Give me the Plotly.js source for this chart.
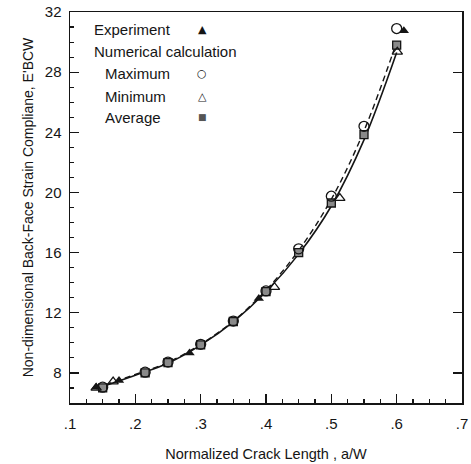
<!DOCTYPE html>
<html><head><meta charset="utf-8">
<script src="https://cdn.plot.ly/plotly-3.0.1.min.js"></script>
<style>body{margin:0;background:#fff}#c{width:471px;height:464px}</style>
</head><body><div id="c"></div>
<script>
// Experiment (filled triangles)
const expX = [0.14, 0.175, 0.283, 0.389, 0.611];
const expY = [7.05, 7.5, 9.32, 12.95, 30.75];
// Numerical: maximum (open circles)
const maxX = [0.15, 0.215, 0.25, 0.30, 0.35, 0.40, 0.45, 0.50, 0.55, 0.60];
const maxY = [7.05, 8.05, 8.72, 9.9, 11.45, 13.45, 16.25, 19.75, 24.4, 30.9];
// Numerical: minimum (open triangles)
const minX = [0.14, 0.166, 0.413, 0.513, 0.601];
const minY = [7.0, 7.42, 13.7, 19.62, 29.35];
// Numerical: average (shaded squares)
const avgX = [0.15, 0.215, 0.25, 0.30, 0.35, 0.40, 0.45, 0.50, 0.55, 0.60];
const avgY = [7.0, 8.0, 8.68, 9.86, 11.42, 13.4, 16.0, 19.3, 23.85, 29.8];
// Fitted curves
const solidX = [0.14, 0.2, 0.25, 0.3, 0.35, 0.4, 0.45, 0.5, 0.55, 0.6];
const solidY = [6.95, 7.85, 8.65, 9.85, 11.4, 13.4, 15.9, 19.1, 23.5, 29.3];
const dashX  = [0.14, 0.2, 0.25, 0.3, 0.35, 0.4, 0.45, 0.5, 0.55, 0.6];
const dashY  = [7.0, 7.9, 8.7, 9.9, 11.45, 13.5, 16.15, 19.55, 24.1, 30.0];
const xTicks = [0.1, 0.2, 0.3, 0.4, 0.5, 0.6, 0.7];
const xTickText = ['.1', '.2', '.3', '.4', '.5', '.6', '.7'];
const yTicks = [8, 12, 16, 20, 24, 28, 32];
const legendLabels = ['Experiment', 'Numerical calculation', 'Maximum', 'Minimum', 'Average'];
const legendGlyphs = ['▲', '', '○', '△', '■'];

const ink = '#151515';
const fam = 'Liberation Sans, Arial, sans-serif';
const traces = [
  {x: solidX, y: solidY, mode: 'lines', line: {color: ink, width: 1.6, shape: 'spline'}},
  {x: dashX, y: dashY, mode: 'lines', line: {color: ink, width: 1.4, dash: '6px,4px', shape: 'spline'}},
  {x: avgX, y: avgY, mode: 'markers', marker: {symbol: 'square', size: 8, color: '#8a8a8a', line: {color: ink, width: 1.3}}},
  {x: maxX, y: maxY, mode: 'markers', marker: {symbol: 'circle-open', size: 10, color: ink, line: {width: 1.3}}},
  {x: minX, y: minY, mode: 'markers', marker: {symbol: 'triangle-up-open', size: 9, color: ink, line: {width: 1.3}}},
  {x: expX, y: expY, mode: 'markers', marker: {symbol: 'triangle-up', size: 9, color: ink}},
  {x: [0.4], y: [20], yaxis: 'y2', mode: 'markers', marker: {opacity: 0}, hoverinfo: 'skip'}
];

const font = {family: fam, size: 15, color: ink};
const ann = [];
const legY = [0.954, 0.898, 0.843, 0.784, 0.731];
const legX = [0.056, 0.056, 0.084, 0.084, 0.084];
legendLabels.forEach((t, i) => {
  ann.push({xref: 'paper', yref: 'paper', x: legX[i], y: legY[i], xanchor: 'left', yanchor: 'middle',
    text: t, showarrow: false, font: font});
  if (legendGlyphs[i]) ann.push({xref: 'paper', yref: 'paper', x: 0.337, y: legY[i], xanchor: 'center', yanchor: 'middle',
    text: legendGlyphs[i], showarrow: false, font: {family: 'DejaVu Sans', size: i === 4 ? 9 : 11, color: i === 4 ? '#555' : ink}});
});

const layout = {
  width: 471, height: 464,
  margin: {l: 70, r: 9, t: 12, b: 61},
  paper_bgcolor: '#fff', plot_bgcolor: '#fff',
  showlegend: false,
  font: font,
  xaxis: {
    range: [0.1, 0.7], tickvals: xTicks, ticktext: xTickText,
    ticks: 'inside', ticklen: 9, tickwidth: 1.3, tickcolor: ink,
    minor: {dtick: 0.025, tick0: 0.1, ticks: 'inside', ticklen: 4, tickwidth: 1.1, tickcolor: ink, showgrid: false},
    showline: true, linecolor: ink, linewidth: 1.5, mirror: true,
    showgrid: false, zeroline: false, ticklabelstandoff: 6,
    tickfont: {family: fam, size: 15, color: ink},
    title: {text: 'Normalized Crack Length , a/W', font: {family: fam, size: 14.5, color: ink}, standoff: 18}
  },
  yaxis: {
    range: [6, 32], tickvals: yTicks,
    ticks: 'inside', ticklen: 9, tickwidth: 1.3, tickcolor: ink,
    minor: {dtick: 1, tick0: 6, ticks: 'inside', ticklen: 4, tickwidth: 1.1, tickcolor: ink, showgrid: false},
    showline: true, linecolor: ink, linewidth: 1.5, mirror: true,
    showgrid: false, zeroline: false, ticklabelstandoff: 4,
    tickfont: {family: fam, size: 15, color: ink},
    title: {text: "Non-dimensional Back-Face Strain Compliane, E'BCW", font: {family: fam, size: 14, color: ink}, standoff: 8}
  },
  yaxis2: {
    range: [6, 32], tickvals: yTicks, overlaying: 'y', side: 'right',
    ticks: 'inside', ticklen: 9, tickwidth: 1.3, tickcolor: ink,
    showticklabels: false, showgrid: false, zeroline: false, showline: false
  },
  annotations: ann
};
Plotly.newPlot('c', traces, layout, {displayModeBar: false, staticPlot: true});
</script></body></html>
